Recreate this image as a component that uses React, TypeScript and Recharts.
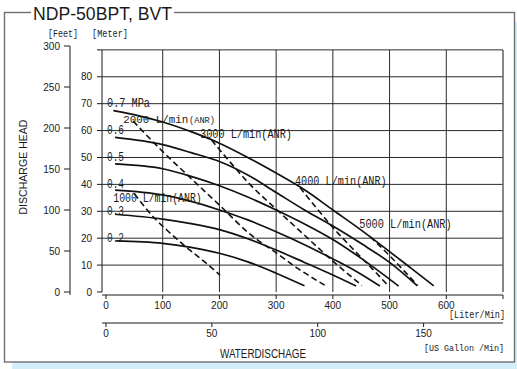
import { LineChart, Line, XAxis, YAxis, ReferenceLine } from 'recharts'

// axis ticks
const literTicks = [0, 100, 200, 300, 400, 500, 600, 700]
const gallonTicks = [0, 50, 100, 150]
const meterTicks = [0, 10, 20, 30, 40, 50, 60, 70, 80, 90]
const feetTicks = [0, 50, 100, 150, 200, 250, 300]
const gridMeters = [10, 20, 30, 40, 50, 60, 70, 80, 90]
const gridLiters = [100, 200, 300, 400, 500, 600, 700]

type Pt = { l: number; m: number }
const pts = (rows: number[][]): Pt[] => rows.map(([l, m]) => ({ l, m }))

// discharge head [m] vs flow [L/min] at each air pressure
const p07 = pts([[13, 67.4], [60, 65.4], [100, 63.2], [150, 59.6], [200, 55.3], [250, 50], [300, 44.2], [350, 38], [400, 30.5], [450, 23], [500, 15], [540, 8.5], [578, 2.3]])
const p06 = pts([[16, 57.5], [100, 54.8], [150, 51.8], [200, 48.5], [250, 43.5], [300, 37], [350, 30.5], [400, 24.5], [450, 18], [500, 11], [549, 2.3]])
const p05 = pts([[16, 47.6], [100, 45.8], [150, 43], [200, 39.5], [250, 35.3], [300, 30.5], [350, 25.3], [400, 19.5], [450, 12.5], [516, 2.2]])
const p04 = pts([[16, 37.9], [100, 36.1], [150, 33.7], [200, 30.5], [250, 26.8], [300, 22.4], [350, 17.6], [400, 12.3], [440, 7.8], [483, 2.2]])
const p03 = pts([[16, 28.9], [100, 27.1], [150, 25.4], [200, 23.2], [250, 19.8], [300, 15.6], [350, 11], [400, 6.3], [441, 2.2]])
const p02 = pts([[18, 19], [100, 18.1], [150, 16.6], [200, 14.4], [250, 11.2], [300, 7], [350, 2.3]])

// air consumption lines (L/min ANR)
const a1000 = pts([[50, 36.5], [83, 28], [110, 22.5], [142, 16.6], [175, 11], [201, 6.3]])
const a2000 = pts([[48, 63.5], [75, 57.5], [100, 52.2], [148, 42.6], [200, 32.3], [254, 21.5], [301, 14.4], [340, 8.5], [386, 2.5]])
const a3000 = pts([[186, 56.5], [220, 48], [251, 40.6], [300, 30.8], [348, 21.5], [400, 11.5], [451, 2.5]])
const a4000 = pts([[342, 38.8], [370, 31.5], [400, 24], [440, 15], [470, 8.5], [497, 2.5]])
const a5000 = pts([[466, 20.5], [500, 13.5], [549, 2.5]])

const pressureCurves = [p02, p03, p04, p05, p06, p07]
const airCurves = [a1000, a2000, a3000, a4000, a5000]

const INK = '#1a1a1a'
const SANS = 'Liberation Sans, Arial, sans-serif'
const MONO = 'Liberation Mono, DejaVu Sans Mono, monospace'
const tickStyle = { fill: INK, fontSize: 10, fontFamily: SANS }

function Txt({ x, y, w, size = 12, font = MONO, anchor = 'start', rotate, children }: any) {
  return (
    <text
      x={x}
      y={y}
      fontSize={size}
      fontFamily={font}
      fill={INK}
      textAnchor={anchor}
      dominantBaseline="central"
      textLength={w}
      lengthAdjust="spacingAndGlyphs"
      transform={rotate ? `rotate(${rotate} ${x} ${y})` : undefined}
    >
      {children}
    </text>
  )
}

export default function App() {
  return (
    <div style={{ position: 'absolute', left: 0, top: 0, width: 517, height: 369, background: '#fff' }}>
      <svg width={517} height={369} style={{ position: 'absolute', left: 0, top: 0 }}>
        <rect x={12} y={22} width={505} height={347} fill="#d3eef9" />
        <rect x={4.5} y={12.5} width={510} height={349.5} fill="#fff" stroke="#707070" strokeWidth={1.4} />
      </svg>

      <div style={{ position: 'absolute', left: 0, top: 0 }}>
        <LineChart width={517} height={369} margin={{ top: 46, right: 14, bottom: 26, left: 30 }}>
          {/* x1 = liters (inner), x2 = US gallons (outer); y1 = meters (inner), y2 = feet (outer) */}
          <XAxis
            xAxisId="x1"
            type="number"
            dataKey="l"
            domain={[0, 700]}
            allowDataOverflow
            ticks={literTicks}
            interval={0}
            padding={{ left: 4, right: 0 }}
            height={28}
            tickSize={4}
            tickMargin={3}
            tick={tickStyle}
            tickFormatter={(v) => (v === 700 ? '' : String(v))}
            axisLine={{ stroke: INK }}
            tickLine={{ stroke: INK }}
          />
          <XAxis
            xAxisId="x2"
            type="number"
            dataKey="l"
            domain={[0, 187.5]}
            allowDataOverflow
            ticks={gallonTicks}
            interval={0}
            padding={{ left: 4, right: 0 }}
            height={20}
            tickSize={4}
            tickMargin={3}
            tick={tickStyle}
            axisLine={{ stroke: INK }}
            tickLine={{ stroke: INK }}
          />
          <YAxis
            yAxisId="y1"
            type="number"
            domain={[0, 300 / 3.2808]}
            allowDataOverflow
            ticks={meterTicks}
            interval={0}
            padding={{ top: 0, bottom: 3 }}
            width={32}
            tickSize={5}
            tickMargin={5}
            tick={tickStyle}
            tickFormatter={(v) => (v === 90 ? '' : String(v))}
            axisLine={false}
            tickLine={{ stroke: INK }}
          />
          <YAxis
            yAxisId="y2"
            type="number"
            domain={[0, 300]}
            allowDataOverflow
            ticks={feetTicks}
            interval={0}
            padding={{ top: 0, bottom: 3 }}
            width={40}
            tickSize={6}
            tickMargin={4}
            tick={tickStyle}
            axisLine={{ stroke: INK }}
            tickLine={{ stroke: INK }}
          />

          {/* meter axis spine, 0 to 90 m, sitting just left of the 0 L/min position */}
          <ReferenceLine
            xAxisId="x1"
            yAxisId="y1"
            segment={[{ x: -7, y: 0 }, { x: -7, y: 90 }]}
            ifOverflow="visible"
            stroke={INK}
            strokeWidth={1}
          />
          {gridMeters.map((m) => (
            <ReferenceLine key={'h' + m} xAxisId="x1" yAxisId="y1" y={m} stroke="#2a2a2a" strokeWidth={1} />
          ))}
          {gridLiters.map((l) => (
            <ReferenceLine
              key={'v' + l}
              xAxisId="x1"
              yAxisId="y1"
              segment={[{ x: l, y: 0 }, { x: l, y: 90 }]}
              stroke={l === 700 ? '#555' : '#2a2a2a'}
              strokeWidth={l === 700 ? 1.4 : 1}
            />
          ))}

          {pressureCurves.map((d, i) => (
            <Line
              key={'p' + i}
              xAxisId="x1"
              yAxisId="y1"
              data={d}
              dataKey="m"
              type="monotone"
              stroke="#111"
              strokeWidth={1.7}
              dot={false}
              isAnimationActive={false}
            />
          ))}
          {airCurves.map((d, i) => (
            <Line
              key={'a' + i}
              xAxisId="x1"
              yAxisId="y1"
              data={d}
              dataKey="m"
              type="monotone"
              stroke="#111"
              strokeWidth={1.6}
              strokeDasharray="6 3.5"
              dot={false}
              isAnimationActive={false}
            />
          ))}
        </LineChart>
      </div>

      <svg width={517} height={369} style={{ position: 'absolute', left: 0, top: 0, pointerEvents: 'none' }}>
        <rect x={31} y={8} width={143} height={9} fill="#fff" />
        <Txt x={33} y={13.5} w={139} size={18} font={SANS}>NDP-50BPT, BVT</Txt>
        <Txt x={48} y={34} w={30} size={10}>[Feet]</Txt>
        <Txt x={92} y={34} w={36} size={10}>[Meter]</Txt>
        <Txt x={23} y={167} w={95} size={11.5} font={SANS} anchor="middle" rotate={-90}>DISCHARGE HEAD</Txt>
        <Txt x={220} y={354} w={86} size={12} font={SANS}>WATERDISCHAGE</Txt>
        <Txt x={449} y={315} w={56} size={10}>[Liter/Min]</Txt>
        <Txt x={424} y={348} w={80} size={9.5}>[US Gallon /Min]</Txt>

        <Txt x={107} y={104.2} w={43} size={12}>0.7 MPa</Txt>
        <Txt x={107} y={131.1} w={17} size={12}>0.6</Txt>
        <Txt x={107} y={158} w={17} size={12}>0.5</Txt>
        <Txt x={107} y={184.9} w={17} size={12}>0.4</Txt>
        <Txt x={107} y={211.8} w={17} size={12}>0.3</Txt>
        <Txt x={107} y={238.7} w={17} size={12}>0.2</Txt>

        <Txt x={123.3} y={120} w={65} size={11}>2000 L/min</Txt>
        <Txt x={189} y={120.5} w={26} size={9}>(ANR)</Txt>
        <Txt x={200} y={135} w={92} size={12}>3000 L/min(ANR)</Txt>
        <Txt x={295} y={181.7} w={91.7} size={12}>4000 L/min(ANR)</Txt>
        <Txt x={359.3} y={225} w={92.4} size={12}>5000 L/min(ANR)</Txt>
        <Txt x={113.3} y={199.3} w={88.4} size={12}>1000 L/min(ANR)</Txt>
      </svg>
    </div>
  )
}
